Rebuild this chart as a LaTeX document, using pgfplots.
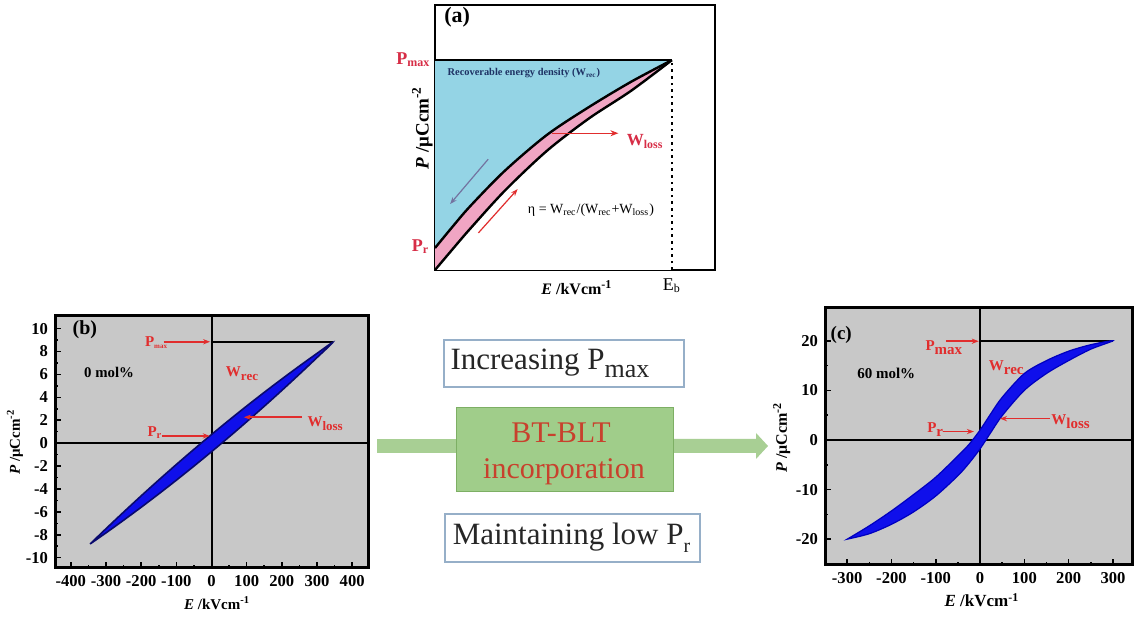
\documentclass[border=0pt]{standalone}
\usepackage{fontspec}
\setmainfont{Liberation Serif}
\usepackage{pgfplots}
\usepackage{pgfplotstable}
\pgfplotsset{compat=1.18}
\usetikzlibrary{arrows.meta}

\definecolor{bggray}{RGB}{200,200,200}
\definecolor{loopblue}{RGB}{15,15,235}
\definecolor{loopedge}{RGB}{10,10,110}
\definecolor{annred}{RGB}{225,45,45}
\definecolor{pinkred}{RGB}{215,45,70}
\definecolor{wrecblue}{RGB}{148,212,229}
\definecolor{wlosspink}{RGB}{240,165,195}
\definecolor{navytext}{RGB}{30,50,100}
\definecolor{greenfill}{RGB}{160,205,138}
\definecolor{greenedge}{RGB}{125,175,100}
\definecolor{greenarrow}{RGB}{168,207,148}
\definecolor{boxedge}{RGB}{150,175,200}
\definecolor{btred}{RGB}{200,65,45}
\definecolor{arrowgray}{RGB}{115,115,160}

\newcommand{\fs}[1]{\fontsize{#1}{#1}\selectfont}
\newcommand{\lsub}[1]{\raisebox{-0.55ex}{#1}}

% panel (a): schematic discharge / charge branches
\pgfplotstableread{
x y
0     0.083
0.06  0.160
0.125 0.240
0.25  0.375
0.40  0.510
0.55  0.615
0.70  0.710
0.846 0.792
}\aup
\pgfplotstableread{
x y
0     0.000
0.06  0.075
0.125 0.155
0.25  0.300
0.40  0.450
0.55  0.572
0.70  0.676
0.846 0.792
}\alow

% panel (b): 0 mol% loop (charging branch then discharging branch)
\pgfplotstableread{
x y
-345 -8.800
-300 -7.835
-250 -6.733
-200 -5.599
-150 -4.434
-100 -3.238
-50  -2.009
0    -0.750
50    0.541
100   1.864
150   3.218
200   4.603
250   6.021
300   7.469
345   8.800
300   7.835
250   6.733
200   5.599
150   4.434
100   3.238
50    2.009
0     0.750
-50  -0.541
-100 -1.864
-150 -3.218
-200 -4.603
-250 -6.021
-300 -7.469
-345 -8.800
}\bloop

% panel (c): 60 mol% loop (charging branch then discharging branch)
\pgfplotstableread{
x y
-300 -20.0
-250 -18.9
-200 -17.0
-150 -14.5
-100 -11.3
-50  -7.2
-25  -4.7
0    -1.8
25    1.6
50    4.9
100  10.0
150  13.4
200  16.0
250  18.3
300  20.0
250  19.2
200  17.9
150  16.0
100  13.4
50    8.6
25    5.4
0     2.0
-25  -0.9
-50  -3.2
-100 -7.5
-150 -11.0
-200 -14.3
-250 -17.3
-300 -20.0
}\cloop

\pgfplotsset{
  loopaxis/.style={
    anchor=south west, scale only axis,
    tick align=inside, tick pos=left,
    minor x tick num=1, minor y tick num=1,
    axis background/.style={fill=bggray},
    axis line style={line width=1.5pt},
    major tick length=3pt, minor tick length=1.6pt,
    every tick/.style={black, line width=0.8pt},
    tick label style={font=\fs{8.3}\bfseries},
    clip=false,
  }
}

\begin{document}
\begin{tikzpicture}
\fill[white] (0,0) rectangle (568pt,309.5pt);

% ---------------- panel (a) ----------------
\begin{axis}[at={(217.5pt,174.5pt)}, anchor=south west, scale only axis,
  width=140pt, height=132.5pt, xmin=0, xmax=1, ymin=0, ymax=1,
  xtick=\empty, ytick=\empty, axis line style={line width=1pt}, clip=false]
\addplot[fill=wrecblue, draw=none] coordinates {(0,0) (0.846,0) (0.846,0.792) (0,0.792)} -- cycle;
\addplot[fill=wlosspink, draw=none, smooth] table {\aup} \closedcycle;
\addplot[fill=white, draw=none, smooth] table {\alow} \closedcycle;
\addplot[black, line width=1pt] coordinates {(0,0.792) (0.846,0.792)};
\addplot[black, line width=1.2pt, smooth] table {\aup};
\addplot[black, line width=1.2pt, smooth] table {\alow};
\addplot[black, dotted, line width=1.3pt] coordinates {(0.846,0) (0.846,0.792)};
\draw[annred, line width=0.7pt, -{Stealth[length=4pt]}] (axis cs:0.417,0.516) -- (axis cs:0.655,0.516);
\draw[annred, line width=0.6pt, -{Stealth[length=3.5pt]}] (axis cs:0.155,0.14) -- (axis cs:0.295,0.305);
\draw[arrowgray, line width=0.6pt, -{Stealth[length=3.5pt]}] (axis cs:0.19,0.418) -- (axis cs:0.054,0.249);
\node[font=\fs{11}\bfseries] at (rel axis cs:0.079,0.955) {(a)};
\node[navytext, font=\fs{5.2}\bfseries, anchor=west] at (axis cs:0.02,0.745) {Recoverable energy density (W\textsubscript{rec})};
\node[pinkred, font=\fs{8.5}\bfseries, anchor=west] at (axis cs:0.66,0.485) {W\textsubscript{loss}};
\node[font=\fs{7}] at (axis cs:0.557,0.226) {η = W\textsubscript{rec}/(W\textsubscript{rec}+W\textsubscript{loss})};
\node[pinkred, font=\fs{9}\bfseries, anchor=east, inner sep=1pt] at (axis cs:-0.008,0.792) {P\textsubscript{max}};
\node[pinkred, font=\fs{9}\bfseries, anchor=east, inner sep=1pt] at (axis cs:-0.012,0.09) {P\textsubscript{r}};
\node[font=\fs{9}, anchor=north] at (axis cs:0.846,-0.005) {E\textsubscript{b}};
\node[font=\fs{8}\bfseries] at (rel axis cs:0.507,-0.066) {\textit{E} /kVcm\textsuperscript{-1}};
\node[font=\fs{9.5}\bfseries, rotate=90] at (rel axis cs:-0.045,0.536) {\textit{P} /μCcm\textsuperscript{-2}};
\end{axis}

% ---------------- panel (b) ----------------
\begin{axis}[loopaxis, at={(27.5pt,25.5pt)},
  width=156.5pt, height=126pt,
  xmin=-445, xmax=445, ymin=-10.9, ymax=11.1,
  xtick={-400,-300,-200,-100,0,100,200,300,400},
  xticklabels={-400,-300,-200,-100,0,100,200,300,400},
  ytick={-10,-8,-6,-4,-2,0,2,4,6,8,10},
  yticklabels={-10,-8,-6,-4,-2,0,2,4,6,8,10}]
\draw[line width=1pt] (axis cs:0,-10.9) -- (axis cs:0,11.1);
\draw[line width=1pt] (axis cs:-445,0) -- (axis cs:445,0);
\addplot[black, line width=1pt] coordinates {(0,8.8) (345,8.8)};
\addplot[fill=loopblue, draw=loopedge, line width=0.8pt, smooth] table {\bloop} -- cycle;
\node[font=\fs{10}\bfseries, anchor=base west, inner sep=0pt] at (axis cs:-396,9.45) {(b)};
\node[font=\fs{7.4}\bfseries, anchor=base west, inner sep=0pt] at (axis cs:-363,5.7) {0 mol\%};
\node[annred, font=\fs{7.5}\bfseries, anchor=base west, inner sep=0pt] at (axis cs:-190,8.4) {P\textsubscript{\fs{3.5}max}};
\draw[annred, line width=0.8pt, -{Stealth[length=3.5pt]}] (axis cs:-136,8.85) -- (axis cs:-4,8.85);
\node[annred, font=\fs{7.5}\bfseries, anchor=base west, inner sep=0pt] at (axis cs:-183,0.57) {P\textsubscript{r}};
\draw[annred, line width=0.8pt, -{Stealth[length=3.5pt]}] (axis cs:-140,0.63) -- (axis cs:-5,0.63);
\node[annred, font=\fs{7.5}\bfseries, anchor=base west, inner sep=0pt] at (axis cs:40,5.8) {W\lsub{\fs{6.5}rec}};
\node[annred, font=\fs{7.5}\bfseries, anchor=base west, inner sep=0pt] at (axis cs:272,1.44) {W\lsub{\fs{6.5}loss}};
\draw[annred, line width=0.8pt, -{Stealth[length=3.5pt]}] (axis cs:258,2.26) -- (axis cs:92,2.26);
\node[font=\fs{7.5}\bfseries] at (rel axis cs:0.518,-0.139) {\textit{E} /kVcm\textsuperscript{-1}};
\node[font=\fs{7.5}\bfseries, rotate=90] at (rel axis cs:-0.128,0.5) {\textit{P} /μCcm\textsuperscript{-2}};
\end{axis}

% ---------------- panel (c) ----------------
\begin{axis}[loopaxis, at={(412.5pt,27pt)},
  width=153.5pt, height=129pt,
  xmin=-350, xmax=343, ymin=-25.2, ymax=26.8,
  xtick={-300,-200,-100,0,100,200,300},
  xticklabels={-300,-200,-100,0,100,200,300},
  ytick={-20,-10,0,10,20},
  yticklabels={-20,-10,0,10,20}]
\draw[line width=1pt] (axis cs:0,-25.2) -- (axis cs:0,26.8);
\draw[line width=1pt] (axis cs:-350,0) -- (axis cs:343,0);
\addplot[black, line width=1pt] coordinates {(0,20) (300,20)};
\addplot[fill=loopblue, draw=blue!75!black, line width=0.6pt, smooth] table {\cloop} -- cycle;
\node[font=\fs{9.5}\bfseries, anchor=base west, inner sep=0pt] at (axis cs:-338,20.2) {(c)};
\node[font=\fs{7.5}\bfseries, anchor=base west, inner sep=0pt] at (axis cs:-278,12.4) {60 mol\%};
\node[annred, font=\fs{7.5}\bfseries, anchor=base west, inner sep=0pt] at (axis cs:-124,18.0) {P\lsub{max}};
\draw[annred, line width=0.8pt, -{Stealth[length=3.5pt]}] (axis cs:-77,19.9) -- (axis cs:-3,19.9);
\node[annred, font=\fs{7.5}\bfseries, anchor=base west, inner sep=0pt] at (axis cs:-120,1.5) {P\lsub{r}};
\draw[annred, line width=0.8pt, -{Stealth[length=3.5pt]}] (axis cs:-84,1.7) -- (axis cs:-14,1.7);
\node[annred, font=\fs{7.5}\bfseries, anchor=base west, inner sep=0pt] at (axis cs:19,14.0) {W\lsub{rec}};
\node[annred, font=\fs{7.5}\bfseries, anchor=base west, inner sep=0pt] at (axis cs:160,3.1) {W\lsub{loss}};
\draw[annred, line width=0.8pt, -{Stealth[length=3.5pt]}] (axis cs:158,4.3) -- (axis cs:45,4.3);
\node[font=\fs{8.5}\bfseries] at (rel axis cs:0.511,-0.136) {\textit{E} /kVcm\textsuperscript{-1}};
\node[font=\fs{8}\bfseries, rotate=90] at (rel axis cs:-0.141,0.494) {\textit{P} /μCcm\textsuperscript{-2}};
\end{axis}

% ---------------- centre ----------------
\fill[greenarrow] (188.5pt,83pt) rectangle (228pt,90pt);
\fill[greenarrow] (336.5pt,83pt) -- (378pt,83pt) -- (378pt,80pt) -- (384pt,86.5pt)
  -- (378pt,93pt) -- (378pt,90pt) -- (336.5pt,90pt) -- cycle;
\filldraw[fill=greenfill, draw=greenedge, line width=0.5pt] (228pt,63.5pt) rectangle (336.5pt,105.5pt);
\node[btred, font=\fs{15}] at (280.5pt,93pt) {BT-BLT};
\node[btred, font=\fs{15}] at (282pt,73.5pt) {incorporation};
\draw[boxedge, line width=0.6pt] (222pt,116pt) rectangle (342pt,139.5pt);
\node[black!85, font=\fs{15.5}] at (275pt,128pt) {Increasing P\lsub{\fs{13}max}};
\draw[boxedge, line width=0.6pt] (222.5pt,28.5pt) rectangle (350pt,52.5pt);
\node[black!85, font=\fs{15.5}] at (285.75pt,40.5pt) {Maintaining low P\lsub{\fs{10}r}};
\useasboundingbox (0,0) rectangle (568pt,309.5pt);
\end{tikzpicture}
\end{document}
